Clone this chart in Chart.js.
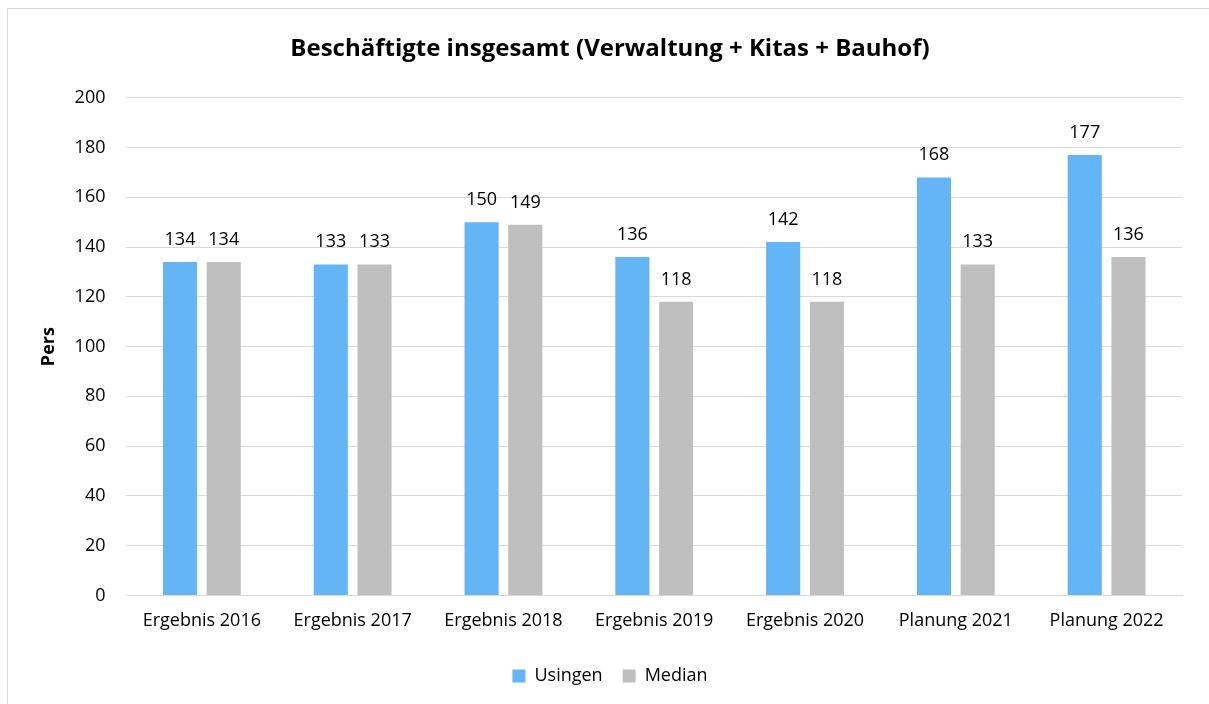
<!DOCTYPE html>
<html><head><meta charset="utf-8">
<script src="https://cdn.jsdelivr.net/npm/chart.js@4"></script>
<style>
html,body{margin:0;padding:0;background:#fff;width:1209px;height:704px;overflow:hidden;}
#frame{position:absolute;left:7px;top:8px;width:1230px;height:730px;border:1px solid #d9d9d9;box-sizing:border-box;}
#wrap{position:absolute;left:0;top:0;width:1209px;height:704px;}
</style></head>
<body>
<div id="frame"></div>
<div id="wrap"><canvas id="c" width="1209" height="704"></canvas></div>
<script>
const categories = ["Ergebnis 2016","Ergebnis 2017","Ergebnis 2018","Ergebnis 2019","Ergebnis 2020","Planung 2021","Planung 2022"];
const usingen = [134,133,150,136,142,168,177];
const median = [134,133,149,118,118,133,136];
const seriesNames = ["Usingen","Median"];
const titleText = "Beschäftigte insgesamt (Verwaltung + Kitas + Bauhof)";
const yTitle = "Pers";

const FONT = "'Open Sans', sans-serif";

const labelPlugin = {
  id: 'barLabels',
  afterDatasetsDraw(chart) {
    const ctx = chart.ctx;
    ctx.save();
    ctx.font = "18px " + FONT;
    ctx.fillStyle = "#000";
    ctx.textAlign = "center";
    ctx.textBaseline = "alphabetic";
    chart.data.datasets.forEach((ds, i) => {
      chart.getDatasetMeta(i).data.forEach((bar, j) => {
        ctx.fillText(String(ds.data[j]), bar.x, bar.y - 17);
      });
    });
    ctx.restore();
  }
};

new Chart(document.getElementById('c'), {
  type: 'bar',
  data: {
    labels: categories,
    datasets: [
      {label: seriesNames[0], data: usingen, backgroundColor: '#63B5F6', categoryPercentage: 0.58, barPercentage: 0.78},
      {label: seriesNames[1], data: median, backgroundColor: '#BFBFBF', categoryPercentage: 0.58, barPercentage: 0.78}
    ]
  },
  options: {
    responsive: false,
    animation: false,
    devicePixelRatio: 1,
    layout: {padding: {left: 38, right: 27, top: 35, bottom: 9}},
    plugins: {
      title: {display: true, text: titleText, color: '#000', font: {family: FONT, size: 24, weight: 'bold'}, padding: {top: 0, bottom: 34}},
      legend: {position: 'bottom', labels: {color: '#000', font: {family: FONT, size: 18}, boxWidth: 13, boxHeight: 13, padding: 20}},
      tooltip: {enabled: false}
    },
    scales: {
      x: {
        grid: {display: false, drawTicks: false},
        border: {color: '#D9D9D9', width: 1},
        ticks: {color: '#000', font: {family: FONT, size: 18}, padding: 15, maxRotation: 0}
      },
      y: {
        min: 0, max: 200,
        ticks: {stepSize: 20, color: '#000', font: {family: FONT, size: 18}, padding: 21},
        grid: {color: '#D9D9D9', lineWidth: 1, drawTicks: false},
        border: {display: false},
        title: {display: true, text: yTitle, color: '#000', font: {family: FONT, size: 18, weight: 'bold'}, padding: {top: 0, bottom: -6}}
      }
    }
  },
  plugins: [labelPlugin]
});
</script>
</body></html>
